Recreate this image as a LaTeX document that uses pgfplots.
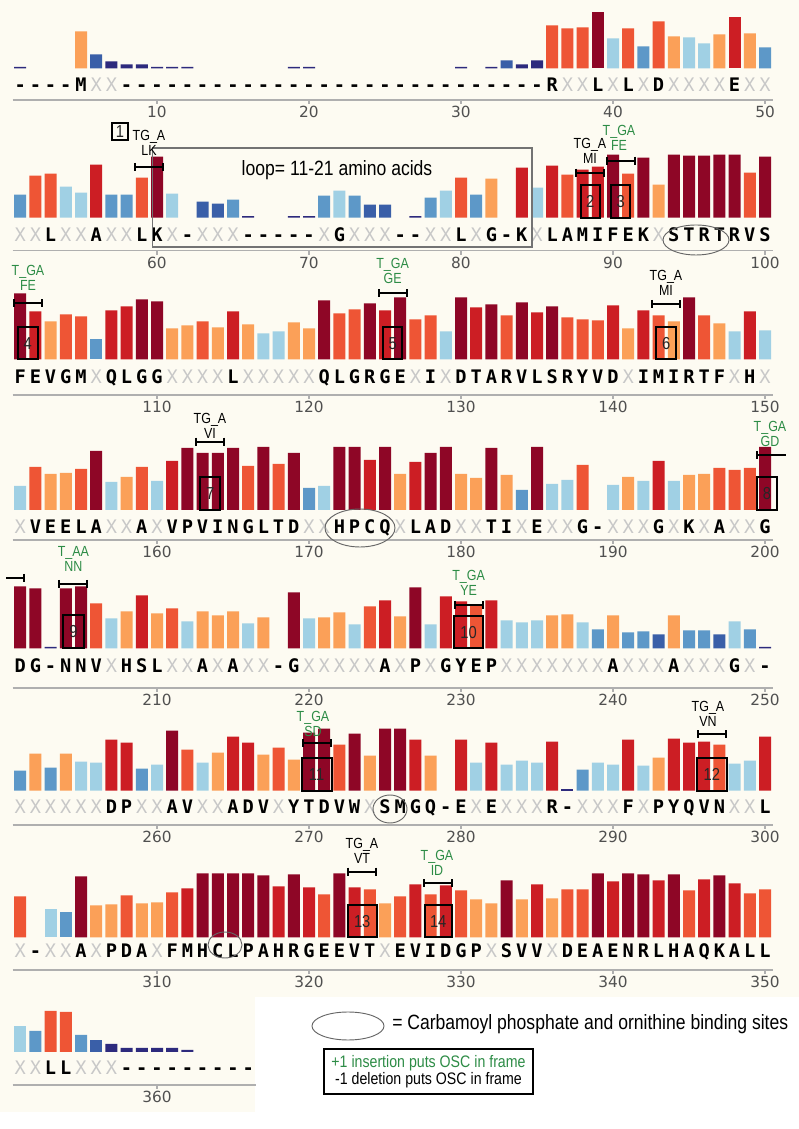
\documentclass[border=0pt]{standalone}
\usepackage{fontspec}
\usepackage{pgfplots}
\usepackage{pgfplotstable}
\pgfplotsset{compat=1.18}
\setmainfont{Liberation Sans}
\newfontfamily\tickfont{DejaVu Sans}
\newfontfamily\seqfont{DejaVu Sans Mono}
\newfontfamily\narrow[FakeStretch=0.85]{Liberation Sans}

\definecolor{bg}{RGB}{253,251,242}
\definecolor{c1}{RGB}{142,6,38}
\definecolor{c2}{RGB}{204,30,36}
\definecolor{c3}{RGB}{238,85,53}
\definecolor{c4}{RGB}{251,160,88}
\definecolor{c5}{RGB}{160,208,228}
\definecolor{c6}{RGB}{93,152,200}
\definecolor{c7}{RGB}{58,95,168}
\definecolor{c8}{RGB}{45,42,125}
\definecolor{gr}{RGB}{45,140,70}
\definecolor{axgray}{RGB}{175,175,175}
\definecolor{tickgray}{RGB}{80,80,80}
\definecolor{xgray}{RGB}{200,200,200}

\pgfplotsset{
  rowaxis/.style={scale only axis, anchor=south west, xmin=0.5, xmax=50.5, ymax=72, clip=false,
    axis x line*=bottom, axis y line=none, ytick=\empty,
    axis line style={draw=axgray, line width=1.1pt},
    xtick={10,20,30,40,50}, tick align=outside, major tick length=3pt,
    xtick style={draw=axgray, line width=0.8pt},
    xticklabel style={font=\tickfont\fontsize{11.5}{12}\selectfont, text=tickgray, inner sep=1.5pt}},
}
\newcommand\onebar[2]{\addplot[ybar,bar width=9pt,bar shift=0pt,draw=none,fill=c#2,restrict expr to domain={\thisrow{c}}{#2:#2}] table[x=i,y=h]{#1};}
\newcommand\bars[1]{\onebar{#1}{1}\onebar{#1}{2}\onebar{#1}{3}\onebar{#1}{4}\onebar{#1}{5}\onebar{#1}{6}\onebar{#1}{7}\onebar{#1}{8}}

\pgfplotstableread{
i h c
1 1.5 8
5 37 4
6 14 7
7 7 8
8 4 8
9 4 8
10 1.5 8
11 1.5 8
12 1.5 8
19 1.5 8
20 1.5 8
30 1.5 8
32 1.5 8
33 8 7
34 4 8
35 8 8
36 43 3
37 40 3
38 41 3
39 56 1
40 30 5
41 40 3
42 22 6
43 47 3
44 32 4
45 31 5
46 25 5
47 34 4
48 51 2
49 35 4
50 21 6
}\rA
\pgfplotstableread{
i h c
1 23 6
2 42 3
3 44 3
4 31 5
5 25 5
6 53 2
7 23 6
8 23 6
9 40 3
10 61 1
11 24 5
13 16 7
14 14 7
15 18 6
16 1.5 8
19 1.5 8
20 1.5 8
21 22 6
22 27 5
23 22 6
24 13 7
25 13 7
27 1.5 8
28 20 6
29 27 5
30 40 3
31 23 6
32 39 4
34 50 2
35 30 5
36 52 2
37 43 3
38 48 2
39 51 2
40 63 1
41 44 3
42 60 1
43 33 4
44 63 1
45 62 1
46 62 1
47 63 1
48 63 1
49 45 3
50 61 1
}\rB
\pgfplotstableread{
i h c
1 66 1
2 48 2
3 38 4
4 45 3
5 43 3
6 20 6
7 49 2
8 53 2
9 60 1
10 58 1
11 31 4
12 34 4
13 38 3
14 32 4
15 48 2
16 35 4
17 26 5
18 28 5
19 37 4
20 31 4
21 59 1
22 46 3
23 50 3
24 56 1
25 49 2
26 62 1
27 40 3
28 44 3
29 28 5
30 62 1
31 52 2
32 55 1
33 44 3
34 57 1
35 47 2
36 53 1
37 42 3
38 40 3
39 39 3
40 54 2
41 31 4
42 49 2
43 44 3
44 38 4
45 62 1
46 44 3
47 36 4
48 28 5
49 48 2
50 29 5
}\rC
\pgfplotstableread{
i h c
1 24 5
2 43 3
3 36 4
4 37 4
5 41 3
6 59 1
7 28 5
8 33 4
9 43 3
10 29 5
11 49 2
12 62 1
13 57 1
14 57 1
15 62 1
16 44 3
17 63 1
18 46 3
19 57 1
20 22 6
21 24 5
22 63 1
23 63 1
24 50 2
25 63 1
26 36 4
27 48 2
28 57 1
29 63 1
30 36 4
31 32 4
32 62 1
33 35 4
34 20 6
35 63 1
36 26 5
37 30 5
38 45 3
40 25 5
41 33 4
42 29 5
43 49 2
44 29 5
45 35 4
46 36 4
47 42 3
48 40 3
49 42 3
50 63 1
}\rD
\pgfplotstableread{
i h c
1 62 1
2 60 1
3 1.5 8
4 60 1
5 62 1
6 45 3
7 30 5
8 37 4
9 53 2
10 35 4
11 40 3
12 27 5
13 37 4
14 33 4
15 37 4
16 25 5
17 31 4
19 56 1
20 30 5
21 31 4
22 36 4
23 24 5
24 42 3
25 48 2
26 32 4
27 61 1
28 24 5
29 52 2
30 47 2
31 44 3
32 48 2
33 28 5
34 26 5
35 28 5
36 33 4
37 34 4
38 26 5
39 19 6
40 33 4
41 16 6
42 17 6
43 14 7
44 33 4
45 18 6
46 18 6
47 14 7
48 27 5
49 19 6
50 1.5 8
}\rE
\pgfplotstableread{
i h c
1 20 6
2 37 4
3 23 6
4 37 4
5 29 5
6 28 5
7 51 2
8 48 2
9 22 6
10 26 5
11 60 1
12 41 3
13 28 5
14 38 4
15 54 2
16 48 2
17 36 4
18 43 3
19 31 4
20 58 1
21 62 1
22 46 3
23 57 1
24 35 4
25 62 1
26 62 1
27 51 2
28 35 4
30 51 2
31 28 5
32 48 2
33 26 5
34 30 5
35 28 5
36 49 2
37 1.5 8
38 21 6
39 28 5
40 26 5
41 51 2
42 25 5
43 33 4
44 52 2
45 48 2
46 49 2
47 46 3
48 27 5
49 30 5
50 54 2
}\rF
\pgfplotstableread{
i h c
1 41 3
3 28 5
4 25 6
5 61 1
6 32 4
7 33 4
8 42 3
9 34 4
10 35 4
11 45 3
12 49 2
13 64 1
14 64 1
15 64 1
16 64 1
17 62 1
18 51 2
19 63 1
20 50 2
21 43 3
22 64 1
23 50 2
24 48 3
25 34 4
26 41 3
27 53 2
28 43 3
29 52 2
30 47 3
31 38 4
32 34 4
33 57 1
34 38 4
35 53 2
36 39 4
37 48 3
38 48 3
39 64 1
40 56 2
41 64 1
42 63 1
43 57 2
44 63 1
45 47 3
46 58 2
47 62 1
48 54 2
49 44 3
50 48 3
}\rG
\pgfplotstableread{
i h c
1 26 5
2 21 6
3 41 3
4 40 3
5 17 6
6 12 7
7 8 8
8 4 8
9 4 8
10 4 8
11 4 8
12 2 8
}\rH

\def\Xc{X}
\newcommand\seq[2]{\foreach \ch [count=\k] in {#2}{%
  \ifx\ch\Xc
    \node[anchor=base, inner sep=0pt, font=\seqfont\fontsize{14}{14}\selectfont, text=xgray] at ({5+15.2*\k},{#1+6.8}) {\ch};
  \else
    \node[anchor=base, inner sep=0pt, font=\seqfont\bfseries\fontsize{14}{14}\selectfont, text=black] at ({5+15.2*\k},{#1+6.8}) {\ch};
  \fi}}
\newcommand\hb[3]{\draw[line width=1.5pt] (#1,#3)--(#2,#3) (#1,#3-4)--(#1,#3+4) (#2,#3-4)--(#2,#3+4);}
\newcommand\hbc[2]{\hb{#1-14}{#1+14}{#2}}
\newcommand\nbox[5]{\draw[line width=1.5pt] (#1-#2,#3) rectangle (#1+#2,#4);
  \node[font=\narrow\fontsize{13}{13}\selectfont, text=black!85, inner sep=0pt] at (#1,{(#3+#4)/2}) {#5};}
\newcommand\lab[5]{\node[font=\narrow\fontsize{11}{11}\selectfont, text=#5, inner sep=0pt] at (#1,#2) {#3};
  \node[font=\narrow\fontsize{11}{11}\selectfont, text=#5, inner sep=0pt] at (#1,{#2+13.5}) {#4};}

\begin{document}
\begin{tikzpicture}
\fill[bg] (0,0) rectangle (599.25pt,846.75pt);
\useasboundingbox (0,0) rectangle (599.25pt,846.75pt);
\fill[white] (191.25pt,0pt) rectangle (599.25pt,99pt);
\fill[white] (0pt,0pt) rectangle (191.25pt,12.75pt);

\begin{axis}[rowaxis, at={(9.45pt,771.75pt)}, width=570pt, height=77.775pt, ymin=-31.7, xticklabels={10,20,30,40,50}]
\bars{\rA}
\end{axis}
\begin{axis}[rowaxis, at={(9.45pt,658.725pt)}, width=570pt, height=78.75pt, ymin=-33, xticklabels={60,70,80,90,100}]
\bars{\rB}
\end{axis}
\begin{axis}[rowaxis, at={(9.45pt,550.5pt)}, width=570pt, height=80.775pt, ymin=-35.7, xticklabels={110,120,130,140,150}]
\bars{\rC}
\end{axis}
\begin{axis}[rowaxis, at={(9.45pt,441.75pt)}, width=570pt, height=76.5pt, ymin=-30, xticklabels={160,170,180,190,200}]
\bars{\rD}
\end{axis}
\begin{axis}[rowaxis, at={(9.45pt,330.75pt)}, width=570pt, height=83.775pt, ymin=-39.7, xticklabels={210,220,230,240,250}]
\bars{\rE}
\end{axis}
\begin{axis}[rowaxis, at={(9.45pt,228pt)}, width=570pt, height=79.725pt, ymin=-34.3, xticklabels={260,270,280,290,300}]
\bars{\rF}
\end{axis}
\begin{axis}[rowaxis, at={(9.45pt,119.25pt)}, width=570pt, height=78.375pt, ymin=-32.5, xticklabels={310,320,330,340,350}]
\bars{\rG}
\end{axis}
\begin{axis}[rowaxis, at={(9.45pt,33pt)}, width=182.4pt, height=78.75pt, xmax=16.5, ymin=-33, xtick={10}, xticklabels={360}]
\bars{\rH}
\end{axis}

\begin{scope}[shift={(0pt,846.75pt)},x=0.75pt,y=-0.75pt]
% sequence letters
\seq{85}{-,-,-,-,M,X,X,-,-,-,-,-,-,-,-,-,-,-,-,-,-,-,-,-,-,-,-,-,-,-,-,-,-,-,-,R,X,X,L,X,L,X,D,X,X,X,X,E,X,X}
\seq{235}{X,X,L,X,X,A,X,X,L,K,X,-,X,X,X,-,-,-,-,-,X,G,X,X,X,-,-,X,X,L,X,G,-,K,X,L,A,M,I,F,E,K,X,S,T,R,T,R,V,S}
\seq{376.7}{F,E,V,G,M,X,Q,L,G,G,X,X,X,X,L,X,X,X,X,X,Q,L,G,R,G,E,X,I,X,D,T,A,R,V,L,S,R,Y,V,D,X,I,M,I,R,T,F,X,H,X}
\seq{526.7}{X,V,E,E,L,A,X,X,A,X,V,P,V,I,N,G,L,T,D,X,X,H,P,C,Q,X,L,A,D,X,X,T,I,X,E,X,X,G,-,X,X,X,G,X,K,X,A,X,X,G}
\seq{665.7}{D,G,-,N,N,V,X,H,S,L,X,X,A,X,A,X,X,-,G,X,X,X,X,X,A,X,P,X,G,Y,E,P,X,X,X,X,X,X,X,A,X,X,X,A,X,X,X,G,X,-}
\seq{807}{X,X,X,X,X,X,D,P,X,X,A,V,X,X,A,D,V,X,Y,T,D,V,W,X,S,M,G,Q,-,E,X,E,X,X,X,R,-,X,X,X,F,X,P,Y,Q,V,N,X,X,L}
\seq{951}{X,-,X,X,A,X,P,D,A,X,F,M,H,C,L,P,A,H,R,G,E,E,V,T,X,E,V,I,D,G,P,X,S,V,V,X,D,E,A,E,N,R,L,H,A,Q,K,A,L,L}
\seq{1068}{X,X,L,L,X,X,X,-,-,-,-,-,-,-,-,-}

% loop rectangle
\draw[black!55, line width=0.8pt] (152.7,148) rectangle (532,247);
\node[font=\narrow\fontsize{15.5}{15.5}\selectfont, inner sep=0pt] at (337,170) {loop= 11-21 amino acids};

% ellipses
\draw[black!60, line width=0.7pt] (696,240) ellipse [x radius=33, y radius=15];
\draw[black!60, line width=0.7pt] (360,528) ellipse [x radius=35, y radius=19];
\draw[black!60, line width=0.7pt] (390,809) ellipse [x radius=17, y radius=14];
\draw[black!60, line width=0.7pt] (225,945) ellipse [x radius=17, y radius=13];

% boxes
\nbox{120}{8}{123}{140}{1}
\nbox{590.2}{9.5}{185}{217.7}{2}
\nbox{620.6}{9.5}{185}{217.7}{3}
\nbox{27.8}{10}{327}{359.3}{4}
\nbox{392.6}{9.5}{327}{359.3}{5}
\nbox{666.2}{10}{327}{359.3}{6}
\nbox{210.2}{10}{477}{510}{7}
\nbox{767}{10}{477}{510}{8}
\nbox{73.4}{10.5}{615}{648.3}{9}
\nbox{468.6}{14.5}{616}{648.3}{10}
\nbox{316.6}{15}{758}{790.7}{11}
\nbox{711.8}{15}{758}{790.7}{12}
\nbox{362.2}{14.5}{905}{937.5}{13}
\nbox{438.2}{13.5}{905}{937.5}{14}

% H bars
\hbc{149.4}{167}
\hbc{590.2}{172.7}
\hbc{620.6}{160.7}
\hbc{27.8}{303.3}
\hbc{392.6}{293.3}
\hbc{666.2}{304}
\hbc{210.2}{441.7}
\draw[line width=1.5pt] (757,455)--(786,455) (757,451)--(757,459);
\draw[line width=1.5pt] (6,578)--(24,578) (24,574)--(24,582);
\hbc{73.4}{584}
\hbc{468.6}{605}
\hbc{316.6}{743.3}
\hbc{711.8}{734.3}
\hbc{362.2}{871.7}
\hbc{438.2}{883.3}

% labels
\lab{149}{137}{TG\_A}{LK}{black}
\lab{590}{145}{TG\_A}{MI}{black}
\lab{619}{131.7}{T\_GA}{FE}{gr}
\lab{28}{271.7}{T\_GA}{FE}{gr}
\lab{392.6}{265}{T\_GA}{GE}{gr}
\lab{666}{276.7}{TG\_A}{MI}{black}
\lab{210}{420}{TG\_A}{VI}{black}
\lab{770}{428}{T\_GA}{GD}{gr}
\lab{73.4}{553}{T\_AA}{NN}{gr}
\lab{468.6}{577}{T\_GA}{YE}{gr}
\lab{313}{718}{T\_GA}{SD}{gr}
\lab{708}{708}{TG\_A}{VN}{black}
\lab{362}{845}{TG\_A}{VT}{black}
\lab{437}{856.7}{T\_GA}{ID}{gr}

% legend
\draw[black!60, line width=0.7pt] (348,1026) ellipse [x radius=36, y radius=14];
\node[anchor=west, font=\narrow\fontsize{15.5}{15.5}\selectfont, inner sep=0pt] at (392,1024) {= Carbamoyl phosphate and ornithine binding sites};
\draw[line width=1.5pt] (324,1049) rectangle (533,1094);
\node[font=\narrow\fontsize{12.5}{12.5}\selectfont, text=gr, inner sep=0pt] at (428.5,1063) {+1 insertion puts OSC in frame};
\node[font=\narrow\fontsize{12.5}{12.5}\selectfont, inner sep=0pt] at (428.5,1080) {-1 deletion puts OSC in frame};
\end{scope}
\end{tikzpicture}
\end{document}
